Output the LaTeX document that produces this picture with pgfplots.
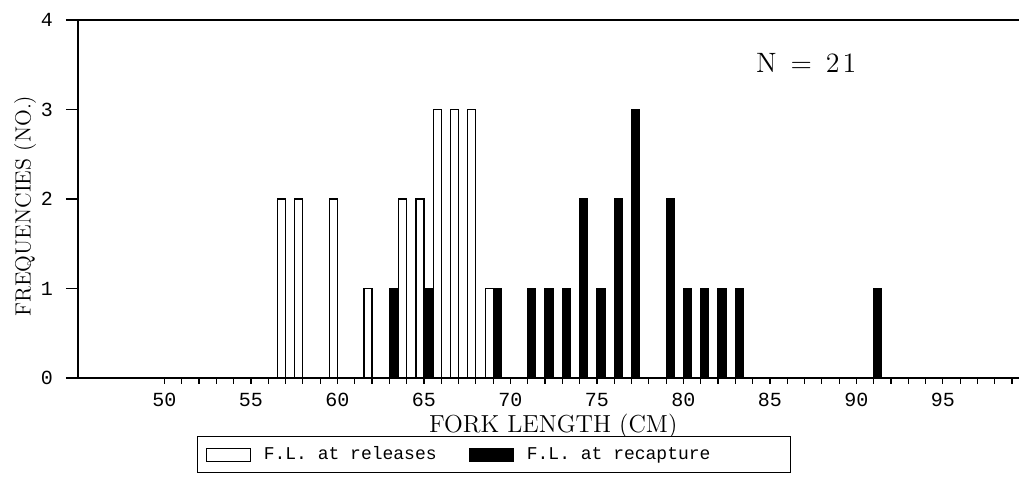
\documentclass[border=0pt]{standalone}
\usepackage{fontspec}
\newfontfamily\cour{Liberation Mono}
\usepackage{pgfplots}
\pgfplotsset{compat=1.18}

\pgfplotstableread{
x y
57 2
58 2
60 2
62 1
64 2
65 2
66 3
67 3
68 3
69 1
}\releases
\pgfplotstableread{
x y
63 1
65 1
69 1
71 1
72 1
73 1
74 2
75 1
76 2
77 3
79 2
80 1
81 1
82 1
83 1
91 1
}\recapture

\begin{document}
\begin{tikzpicture}
\useasboundingbox (-39pt,-59pt) rectangle (470.5pt,189pt);
\begin{axis}[
  at={(0pt,0pt)}, anchor=south west,
  scale only axis, width=470.5pt, height=179pt,
  xmin=45, xmax=99.4, ymin=0, ymax=4,
  axis x line*=box, axis y line*=left,
  axis line style={line width=0.8pt, -},
  xtick={50,55,...,95}, minor xtick={50,...,99},
  ytick={0,1,2,3,4},
  tick align=outside,
  xtick pos=bottom, ytick pos=left,
  major tick length=6pt,
  x tick style={/pgfplots/major tick length=3pt, /pgfplots/minor tick length=3pt},
  tick style={line width=0.6pt, black},
  /pgf/number format/assume math mode=true,
  ticklabel style={font=\cour\fontsize{10}{12}\selectfont},
  xticklabel style={yshift=2pt},
  yticklabel style={xshift=-3pt},
  xlabel={FORK LENGTH (CM)},
  every axis x label/.style={at={(axis description cs:0.505,-0.135)}, anchor=center, font=\fontsize{12.3}{14}\selectfont},
  ylabel={FREQUENCIES (NO.)},
  every axis y label/.style={at={(axis description cs:-0.0563,0.48)}, anchor=center, rotate=90, font=\fontsize{11}{13}\selectfont},
  ybar, bar width=4pt,
  legend columns=2,
  legend cell align=left,
  legend image code/.code={\draw[#1, line width=0.6pt] (0pt,-3.25pt) rectangle (22pt,3.25pt); \path (26.5pt,0pt);},
  legend style={at={(axis description cs:0.1265,-0.162)}, anchor=north west,
    draw=black, line width=0.6pt, font=\cour\fontsize{9}{11}\selectfont,
    inner xsep=4pt, inner ysep=3pt,
    /tikz/every even column/.append style={column sep=14pt}},
]
\addplot[draw=black, fill=white, line width=0.6pt, bar shift=-2pt] table[x=x,y=y] {\releases};
\addlegendentry{F.L. at releases}
\addplot[draw=black, fill=black, line width=0.6pt, bar shift=2pt] table[x=x,y=y] {\recapture};
\addlegendentry{F.L. at recapture\rule{34pt}{0pt}}
\node[font=\fontsize{14}{16}\selectfont] at (axis cs:87.1,3.52) {N\hspace{7pt}=\hspace{7pt}2\kern1.5pt1};
\end{axis}
\end{tikzpicture}
\end{document}
